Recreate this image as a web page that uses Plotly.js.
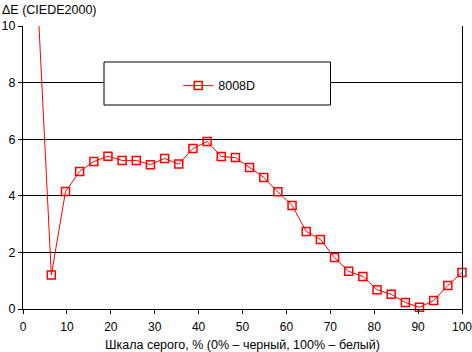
<!DOCTYPE html>
<html>
<head>
<meta charset="utf-8">
<script src="https://cdn.plot.ly/plotly-3.0.1.min.js"></script>
<style>html,body{margin:0;padding:0;background:#fff;}#chart{width:472px;height:352px;}</style>
</head>
<body>
<div id="chart"></div>
<script>
var grayPercent = [3.23, 6.45, 9.68, 12.9, 16.13, 19.35, 22.58, 25.81, 29.03, 32.26, 35.48, 38.71, 41.94, 45.16, 48.39, 51.61, 54.84, 58.06, 61.29, 64.52, 67.74, 70.97, 74.19, 77.42, 80.65, 83.87, 87.1, 90.32, 93.55, 96.77, 100];
var deltaE = [11.3, 1.2, 4.15, 4.86, 5.21, 5.40, 5.25, 5.25, 5.10, 5.32, 5.12, 5.67, 5.92, 5.39, 5.35, 5.00, 4.65, 4.14, 3.66, 2.74, 2.46, 1.82, 1.33, 1.15, 0.68, 0.52, 0.23, 0.06, 0.30, 0.83, 1.29];
var seriesName = "8008D";
var xTickVals = [0, 10, 20, 30, 40, 50, 60, 70, 80, 90, 100];
var yTickVals = [0, 2, 4, 6, 8, 10];

var font = {family: "Liberation Sans, Arial, sans-serif", size: 12.5, color: "#000"};
var tickFont = {family: "Liberation Sans, Arial, sans-serif", size: 12, color: "#000"};

var trace = {
  x: grayPercent, y: deltaE, name: seriesName, type: "scatter", mode: "lines+markers",
  line: {color: "#ff0000", width: 1},
  marker: {symbol: "square-open", size: 8, color: "#ff0000", line: {width: 1.5, color: "#ff0000"}},
  cliponaxis: false
};

var layout = {
  width: 472, height: 352,
  margin: {l: 23, r: 10, t: 26, b: 43},
  paper_bgcolor: "#fff", plot_bgcolor: "#fff",
  font: font,
  showlegend: true,
  legend: {x: 0.447, y: 0.788, xanchor: "center", yanchor: "middle", bgcolor: "rgba(0,0,0,0)", borderwidth: 0, font: font, itemwidth: 30},
  xaxis: {
    range: [0, 100], tickvals: xTickVals, ticks: "outside", ticklen: 4, tickcolor: "#000",
    showline: true, linecolor: "#000", linewidth: 1, showgrid: false, zeroline: false,
    tickfont: tickFont, ticklabeloverflow: "allow", ticklabelstandoff: 3,
    title: {text: "Шкала серого, % (0% – черный, 100% – белый)", font: font, standoff: 6}
  },
  yaxis: {
    range: [0, 10], tickvals: yTickVals, ticks: "outside", ticklen: 4, tickcolor: "#000",
    showline: true, mirror: true, linecolor: "#000", linewidth: 1,
    showgrid: true, gridcolor: "#000", gridwidth: 1, zeroline: false,
    tickfont: font, ticklabeloverflow: "allow"
  },
  shapes: [{
    type: "rect", xref: "paper", yref: "paper", layer: "above",
    x0: (104 - 23) / 439, x1: (330.5 - 23) / 439,
    y0: (309 - 105) / 283, y1: (309 - 62) / 283,
    line: {color: "#000", width: 1}, fillcolor: "rgba(255,255,255,1)"
  }],
  annotations: [{
    text: "ΔE (CIEDE2000)", xref: "paper", yref: "paper",
    x: -23 / 439, y: 1 + 16 / 283, xanchor: "left", yanchor: "middle",
    showarrow: false, font: font
  }]
};

Plotly.newPlot("chart", [trace], layout, {displayModeBar: false, staticPlot: true});
</script>
</body>
</html>
